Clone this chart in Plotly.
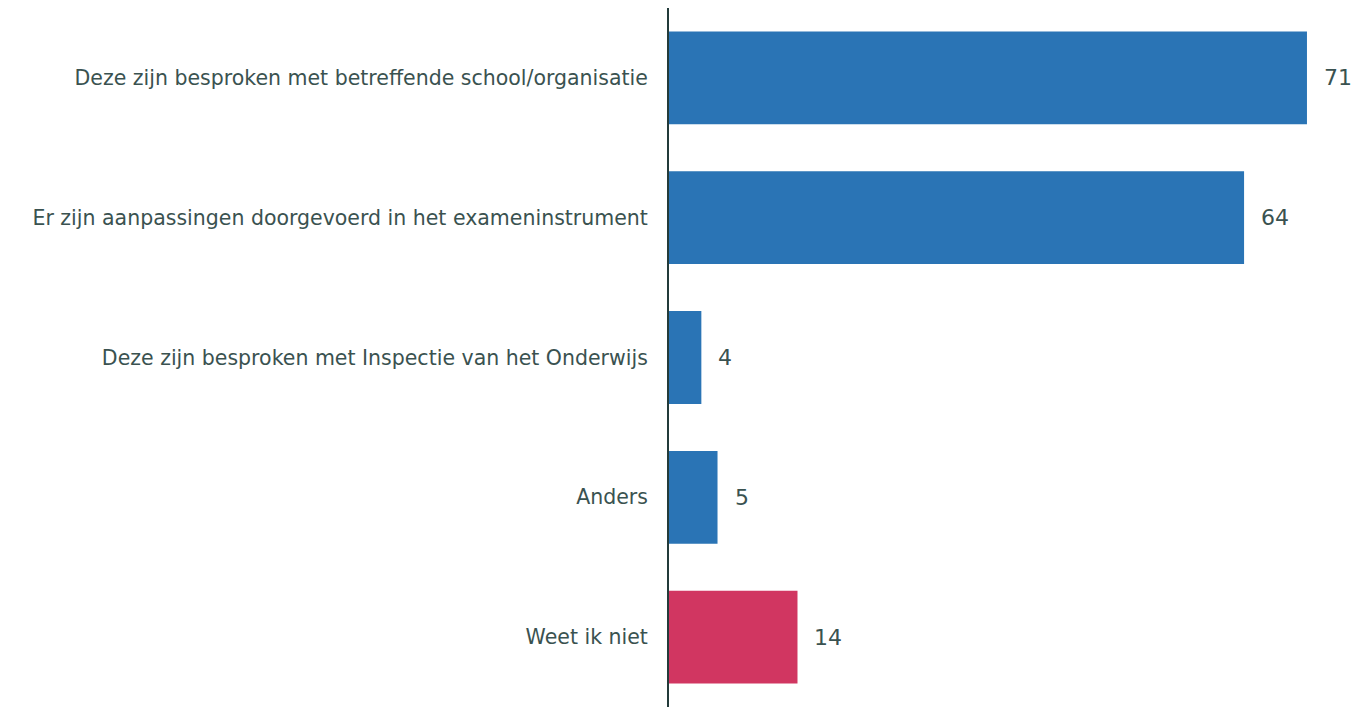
import plotly.graph_objects as go

categories = [
    "Deze zijn besproken met betreffende school/organisatie",
    "Er zijn aanpassingen doorgevoerd in het exameninstrument",
    "Deze zijn besproken met Inspectie van het Onderwijs",
    "Anders",
    "Weet ik niet",
]
values = [71, 64, 3.6, 5.4, 14.3]
colors = ["#2a74b5", "#2a74b5", "#2a74b5", "#2a74b5", "#d13661"]

text_color = "#3a5250"
font_family = "DejaVu Sans, sans-serif"

fig = go.Figure(
    go.Bar(
        x=values,
        y=categories,
        orientation="h",
        marker=dict(color=colors, line=dict(width=0)),
        hoverinfo="skip",
    )
)

for c, v in zip(categories, values):
    fig.add_annotation(
        x=v, y=c, text=f"{v:.0f}", showarrow=False,
        xanchor="left", yanchor="middle", xshift=15,
        font=dict(family=font_family, size=22, color=text_color),
    )

fig.update_layout(
    width=1351, height=707,
    margin=dict(l=669, r=0, t=8, b=0),
    paper_bgcolor="white", plot_bgcolor="white",
    bargap=0.336,
    showlegend=False,
    font=dict(family=font_family, color=text_color),
)
fig.update_xaxes(range=[0, 75.9], visible=False, showgrid=False, zeroline=False)
fig.update_yaxes(
    autorange="reversed",
    showline=True, linecolor="#233b3a", linewidth=2,
    ticks="", showgrid=False, zeroline=False,
    ticklabelstandoff=15,
    tickfont=dict(family=font_family, size=20.5, color=text_color),
)

fig.write_html(
    "out.html",
    config={"displayModeBar": False},
    post_script="document.body.style.margin='0';document.body.style.overflow='hidden';",
)
